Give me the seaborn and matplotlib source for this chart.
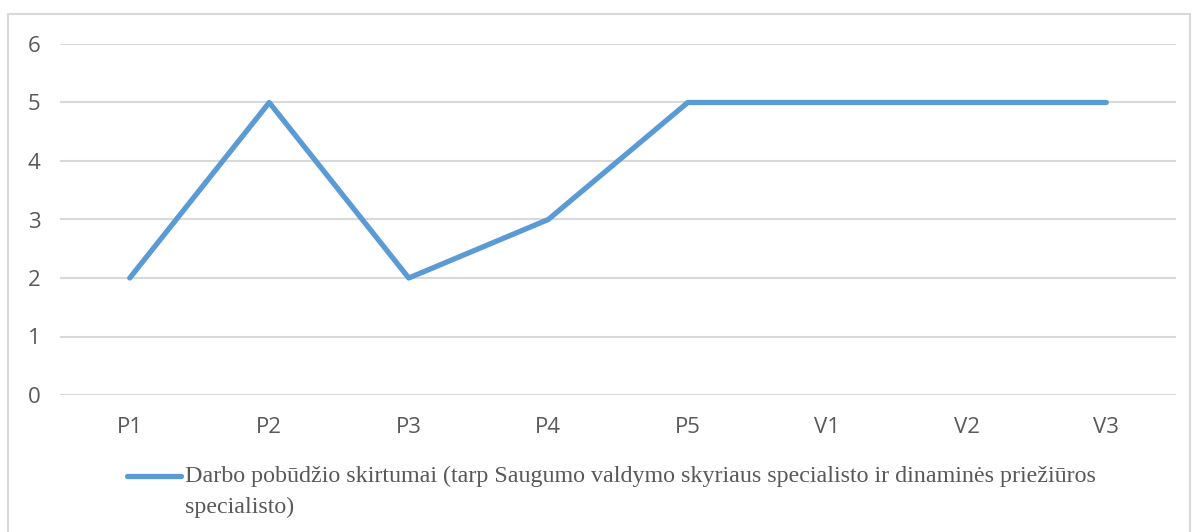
import pandas as pd
import numpy as np
import matplotlib.pyplot as plt
import seaborn as sns
from matplotlib.patches import Rectangle

#Data
categories = ["P1", "P2", "P3", "P4", "P5", "V1", "V2", "V3"]
values = [2, 5, 2, 3, 5, 5, 5, 5]
series_line1 = "Darbo pobūdžio skirtumai (tarp Saugumo valdymo skyriaus specialisto ir dinaminės priežiūros"
series_line2 = "specialisto)"

df = pd.DataFrame({"cat": categories, "val": values})

sns.set_theme(style="white")
plt.rcParams["font.family"] = ["Open Sans", "DejaVu Sans"]

fig = plt.figure(figsize=(11.92, 5.32), dpi=100)
ax = fig.add_axes([60 / 1192, 137 / 532, 1116 / 1192, 351 / 532])

line_color = "#5B9BD5"
sns.lineplot(data=df, x="cat", y="val", sort=False, color=line_color,
             linewidth=3.8, ax=ax, legend=False)

ax.set_xlim(-0.5, len(categories) - 0.5)
ax.set_ylim(0, 6)
ax.set_yticks(range(0, 7))
ax.yaxis.grid(True, color="#D9D9D9", linewidth=1.5)
ax.set_axisbelow(True)
for s in ax.spines.values():
    s.set_visible(False)
ax.set_xlabel("")
ax.set_ylabel("")
ax.tick_params(axis="both", length=0, labelsize=16, colors="#595959")
ax.tick_params(axis="y", pad=14)
ax.tick_params(axis="x", pad=16)

#Outer frame
fig.patches.append(Rectangle((8 / 1192, -0.05), 1182 / 1192, (518 / 532) + 0.05,
                             transform=fig.transFigure, fill=False,
                             edgecolor="#D9D9D9", linewidth=1.5))

#Legend (wrapped label)
serif = ["Liberation Serif", "DejaVu Serif"]
fig.add_artist(plt.Line2D([127 / 1192, 181 / 1192], [1 - 476 / 532] * 2,
                          transform=fig.transFigure, color=line_color,
                          linewidth=3.8, solid_capstyle="round"))
fig.text(185 / 1192, 1 - 476 / 532, series_line1, family=serif, fontsize=17.3,
         color="#595959", va="center", ha="left")
fig.text(185 / 1192, 1 - 507 / 532, series_line2, family=serif, fontsize=17.3,
         color="#595959", va="center", ha="left")

plt.savefig("out.png", dpi=100)
